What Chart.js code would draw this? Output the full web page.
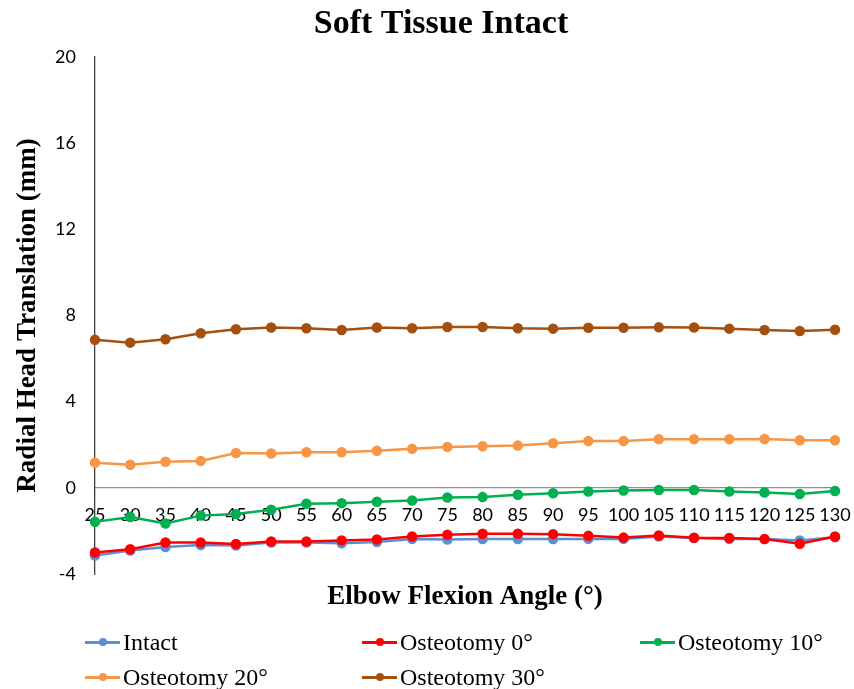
<!DOCTYPE html>
<html>
<head>
<meta charset="utf-8">
<script src="https://cdn.jsdelivr.net/npm/chart.js@4/dist/chart.umd.min.js"></script>
<style>
  html, body { margin: 0; padding: 0; background: #fff; }
  #wrap { position: relative; width: 854px; height: 689px; }
  canvas { position: absolute; left: 0; top: 0; }
  .lg { position: absolute; height: 30px; line-height: 30px; font-family: "Liberation Serif", "Times New Roman", serif; font-size: 24px; color: #000; white-space: nowrap; }
  .mk { position: absolute; top: 14px; left: 0; width: 35px; height: 3px; }
  .dt { position: absolute; top: 11px; left: 14px; width: 8px; height: 8px; border-radius: 50%; }
  .tx { position: absolute; left: 38px; top: 0; }
</style>
</head>
<body>
<div id="wrap">
  <canvas id="c" width="854" height="689"></canvas>
  <div id="legend"></div>
</div>
<script>
const angles = ["25","30","35","40","45","50","55","60","65","70","75","80","85","90","95","100","105","110","115","120","125","130"];
const intact = [-3.14,-2.91,-2.75,-2.65,-2.68,-2.54,-2.54,-2.57,-2.52,-2.37,-2.40,-2.38,-2.38,-2.38,-2.37,-2.37,-2.26,-2.33,-2.37,-2.38,-2.44,-2.29];
const osteo0 = [-3.00,-2.85,-2.54,-2.54,-2.61,-2.49,-2.49,-2.44,-2.40,-2.26,-2.18,-2.13,-2.13,-2.15,-2.23,-2.31,-2.21,-2.32,-2.33,-2.38,-2.60,-2.26];
const osteo10 = [-1.58,-1.35,-1.66,-1.29,-1.22,-1.02,-0.74,-0.71,-0.65,-0.59,-0.45,-0.43,-0.32,-0.25,-0.17,-0.12,-0.10,-0.10,-0.17,-0.22,-0.29,-0.15];
const osteo20 = [1.17,1.07,1.21,1.25,1.62,1.59,1.65,1.65,1.72,1.81,1.90,1.93,1.96,2.07,2.17,2.17,2.26,2.26,2.26,2.27,2.21,2.21];
const osteo30 = [6.87,6.74,6.90,7.18,7.36,7.44,7.41,7.33,7.44,7.41,7.47,7.47,7.41,7.39,7.43,7.43,7.45,7.44,7.39,7.33,7.28,7.34];
const yTicks = [-4, 0, 4, 8, 12, 16, 20];

const chartTitle = "Soft Tissue Intact";
const seriesNames = ["Intact", "Osteotomy 0°", "Osteotomy 10°", "Osteotomy 20°", "Osteotomy 30°"];
const seriesData = [intact, osteo0, osteo10, osteo20, osteo30];
const seriesColors = ["#5B8FD5", "#FF0000", "#00B050", "#F79646", "#A5500F"];

const datasets = seriesNames.map((n, i) => ({
  label: n,
  data: seriesData[i],
  borderColor: seriesColors[i],
  backgroundColor: seriesColors[i],
  pointBackgroundColor: seriesColors[i],
  pointBorderColor: seriesColors[i],
  borderWidth: 2.5,
  pointRadius: 4,
  pointHoverRadius: 4,
  tension: 0,
  fill: false,
  clip: false,
  order: 5 - i,
  xAxisID: 'x'
}));

const tickFont = { family: "Lato, 'Open Sans', sans-serif", size: 18 };
const titleFontFamily = "'Liberation Serif', 'Times New Roman', serif";

const titlePlugin = {
  id: 'excelTitle',
  afterDraw(chart) {
    const ctx = chart.ctx;
    ctx.save();
    ctx.fillStyle = '#000';
    ctx.font = "bold 34px " + titleFontFamily;
    ctx.textAlign = 'center';
    ctx.textBaseline = 'alphabetic';
    ctx.fillText(chartTitle, 441, 33);
    ctx.restore();
  }
};

new Chart(document.getElementById('c'), {
  type: 'line',
  data: { labels: angles, datasets: datasets },
  plugins: [titlePlugin],
  options: {
    responsive: false,
    animation: false,
    devicePixelRatio: 1,
    layout: { padding: { left: 0, right: 19, top: 57, bottom: 0 } },
    plugins: {
      legend: { display: false },
      tooltip: { enabled: false },
      title: { display: false }
    },
    scales: {
      x: {
        type: 'category',
        position: { y: 0 },
        offset: false,
        grid: { display: false, drawTicks: false },
        border: { display: true, color: "#8C8C8C", width: 1.3 },
        ticks: { color: "#000", font: tickFont, padding: 17, autoSkip: false, maxRotation: 0, minRotation: 0 },
        afterFit: s => { s.paddingLeft = 0; s.paddingRight = 0; }
      },
      x2: {
        type: 'category',
        position: 'bottom',
        offset: false,
        grid: { display: false, drawTicks: false },
        border: { display: false },
        ticks: { display: false },
        title: {
          display: true,
          text: "Elbow Flexion Angle (°)",
          color: "#000",
          font: { family: titleFontFamily, size: 27, weight: 'bold', lineHeight: 1.2 },
          padding: { top: 0, bottom: 76 }
        },
        afterFit: s => { s.height = 115; s.paddingLeft = 0; s.paddingRight = 0; }
      },
      y: {
        type: 'linear',
        position: 'left',
        min: -4,
        max: 20,
        afterBuildTicks: s => { s.ticks = yTicks.map(v => ({ value: v })); },
        grid: { display: false, drawTicks: false },
        border: { display: true, color: "#404040", width: 1.3 },
        ticks: { color: "#000", font: tickFont, padding: 19 },
        title: {
          display: true,
          text: "Radial Head Translation (mm)",
          color: "#000",
          font: { family: titleFontFamily, size: 27, weight: 'bold', lineHeight: 1.2 },
          padding: { top: 12, bottom: 0 }
        },
        afterFit: s => { s.width = 95; }
      }
    }
  }
});

// Legend (HTML), laid out in a 3-column grid like the original
const legendPos = [
  { left: 85, top: 627 }, { left: 362, top: 627 }, { left: 640, top: 627 },
  { left: 85, top: 662 }, { left: 362, top: 662 }
];
const lg = document.getElementById('legend');
seriesNames.forEach((n, i) => {
  const d = document.createElement('div');
  d.className = 'lg';
  d.style.left = legendPos[i].left + 'px';
  d.style.top = legendPos[i].top + 'px';
  d.innerHTML = '<span class="mk" style="background:' + seriesColors[i] + '"></span>' +
                '<span class="dt" style="background:' + seriesColors[i] + '"></span>' +
                '<span class="tx">' + n + '</span>';
  lg.appendChild(d);
});
</script>
</body>
</html>
